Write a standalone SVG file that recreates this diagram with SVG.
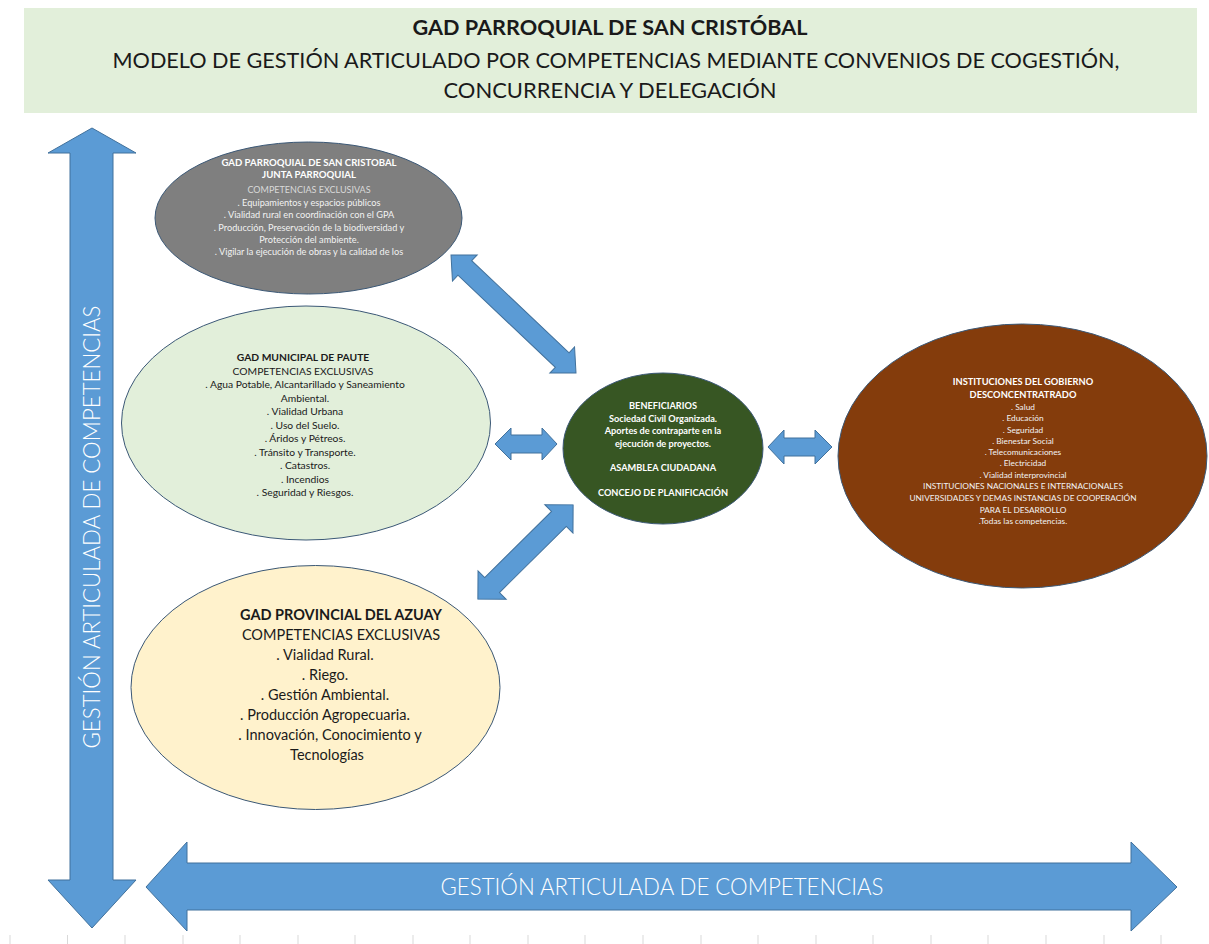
<svg xmlns="http://www.w3.org/2000/svg" width="1209" height="944" viewBox="0 0 1209 944">
<defs>
<style>
.t{font-family:Lato,"Liberation Sans",sans-serif;text-anchor:middle}
.b{font-weight:bold}
.arr{fill:#5b9bd5;stroke:#41719c;stroke-width:1}
.ell{stroke:#3b5876;stroke-width:1}
.w{fill:#ffffff}
.g{fill:#f2f2f2}
.k{fill:#1a1a1a}
.big{font-family:Lato,"Liberation Sans",sans-serif;font-weight:300;fill:#ffffff;text-anchor:middle;font-size:23px}
</style>
</defs>
<rect width="1209" height="944" fill="#ffffff"/>

<g id="title">
<rect x="24" y="8" width="1173" height="105" fill="#e2efda"/>
<text class="t b k" x="610" y="35" font-size="21" textLength="395" lengthAdjust="spacingAndGlyphs">GAD PARROQUIAL DE SAN CRISTÓBAL</text>
<text class="t k" x="616" y="68" font-size="21" textLength="1007" lengthAdjust="spacingAndGlyphs">MODELO DE GESTIÓN ARTICULADO POR COMPETENCIAS MEDIANTE CONVENIOS DE COGESTIÓN,</text>
<text class="t k" x="610" y="98" font-size="21" textLength="333" lengthAdjust="spacingAndGlyphs">CONCURRENCIA Y DELEGACIÓN</text>
</g>

<g id="ticks" stroke="#d9d9d9" stroke-width="1">
<path d="M10,935V944M67.5,935V944M125,935V944M183,935V944M240,935V944M298,935V944M355,935V944M413,935V944M470,935V944M528,935V944M585,935V944M643,935V944M701,935V944M758,935V944M816,935V944M873,935V944M931,935V944M988,935V944M1046,935V944M1104,935V944M1161,935V944"/>
</g>

<g id="axis-vertical">
<path class="arr" d="M92,128 L136,153 L113,153 L113,880 L136,880 L92,928 L48,880 L70,880 L70,153 L48,153 Z"/>
<text class="big" transform="translate(100,527) rotate(-90)" x="0" y="0" textLength="443" lengthAdjust="spacingAndGlyphs">GESTIÓN ARTICULADA DE COMPETENCIAS</text>
</g>

<g id="axis-horizontal">
<path class="arr" d="M146,887 L187,842 L187,863 L1131,863 L1131,842 L1177,887 L1131,931 L1131,910 L187,910 L187,931 Z"/>
<text class="big" x="662" y="895" textLength="443" lengthAdjust="spacingAndGlyphs">GESTIÓN ARTICULADA DE COMPETENCIAS</text>
</g>

<g id="connectors">
<path class="arr" transform="translate(513.5,314) rotate(43.4)" d="M-86,0 L-67,-18 L-67,-10 L67,-10 L67,-18 L86,0 L67,18 L67,10 L-67,10 L-67,18 Z"/>
<path class="arr" transform="translate(525.5,552) rotate(-44.7)" d="M-67,0 L-47,-20 L-47,-10.5 L47,-10.5 L47,-20 L67,0 L47,20 L47,10.5 L-47,10.5 L-47,20 Z"/>
<path class="arr" d="M495,444 L511,428 L511,435 L542,435 L542,428 L557,444 L542,460 L542,453 L511,453 L511,460 Z"/>
<path class="arr" d="M768,447 L784,430 L784,438 L815,438 L815,430 L832,447 L815,464 L815,456 L784,456 L784,464 Z"/>
</g>

<g id="node-parroquial">
<ellipse class="ell" cx="308.5" cy="218" rx="153.5" ry="76" fill="#7f7f7f"/>
<text class="t b w" x="309" y="166" font-size="9.6">GAD PARROQUIAL DE SAN CRISTOBAL</text>
<text class="t b w" x="309" y="177.5" font-size="9.6">JUNTA PARROQUIAL</text>
<text class="t" fill="#d9d9d9" x="309" y="192.5" font-size="9">COMPETENCIAS EXCLUSIVAS</text>
<text class="t g" x="309" y="206" font-size="9.2">. Equipamientos  y espacios públicos</text>
<text class="t g" x="309" y="218" font-size="9.2">. Vialidad rural en coordinación con el GPA</text>
<text class="t g" x="309" y="230.5" font-size="9.2">. Producción, Preservación de la biodiversidad  y</text>
<text class="t g" x="309" y="242.5" font-size="9.2">Protección del ambiente.</text>
<text class="t g" x="309" y="255" font-size="9.2">. Vigilar la ejecución de obras y la calidad de los</text>
</g>

<g id="node-municipal">
<ellipse class="ell" cx="306" cy="423" rx="184.5" ry="117" fill="#e2efda"/>
<text class="t b k" x="303" y="361" font-size="10.3">GAD MUNICIPAL DE PAUTE</text>
<text class="t k" x="303" y="374.5" font-size="10.3">COMPETENCIAS EXCLUSIVAS</text>
<text class="t k" x="305" y="388" font-size="10.3">. Agua Potable, Alcantarillado y Saneamiento</text>
<text class="t k" x="305" y="401.5" font-size="10.3">Ambiental.</text>
<text class="t k" x="305" y="415" font-size="10.3">. Vialidad Urbana</text>
<text class="t k" x="305" y="428.5" font-size="10.3">. Uso del Suelo.</text>
<text class="t k" x="305" y="442" font-size="10.3">. Áridos y Pétreos.</text>
<text class="t k" x="305" y="455.5" font-size="10.3">. Tránsito y Transporte.</text>
<text class="t k" x="305" y="469" font-size="10.3">. Catastros.</text>
<text class="t k" x="305" y="482.5" font-size="10.3">. Incendios</text>
<text class="t k" x="305" y="496" font-size="10.3">. Seguridad y Riesgos.</text>
</g>

<g id="node-beneficiarios">
<ellipse class="ell" cx="663" cy="448.5" rx="100" ry="75.5" fill="#375623"/>
<text class="t b w" x="663" y="409" font-size="9.2">BENEFICIARIOS</text>
<text class="t b w" x="663" y="421.5" font-size="9.2">Sociedad  Civil Organizada.</text>
<text class="t b w" x="663" y="434" font-size="9.2">Aportes de contraparte en la</text>
<text class="t b w" x="663" y="446.5" font-size="9.2">ejecución de proyectos.</text>
<text class="t b w" x="663" y="471" font-size="9.2">ASAMBLEA CIUDADANA</text>
<text class="t b w" x="663" y="496" font-size="9.2">CONCEJO DE PLANIFICACIÓN</text>
</g>

<g id="node-instituciones">
<ellipse class="ell" cx="1022.5" cy="456" rx="184.5" ry="132" fill="#843c0c"/>
<text class="t b w" x="1023" y="384.5" font-size="9.3">INSTITUCIONES DEL GOBIERNO</text>
<text class="t b w" x="1023" y="397.5" font-size="9.3">DESCONCENTRATRADO</text>
<text class="t g" x="1023" y="410" font-size="8.3">. Salud</text>
<text class="t g" x="1023" y="421" font-size="8.3">. Educación</text>
<text class="t g" x="1023" y="432.5" font-size="8.3">. Seguridad</text>
<text class="t g" x="1023" y="443.5" font-size="8.3">. Bienestar Social</text>
<text class="t g" x="1023" y="455" font-size="8.3">. Telecomunicaciones</text>
<text class="t g" x="1023" y="466" font-size="8.3">. Electricidad</text>
<text class="t g" x="1023" y="477.5" font-size="8.3">. Vialidad interprovincial</text>
<text class="t g" x="1023" y="489" font-size="8.3">INSTITUCIONES NACIONALES E INTERNACIONALES</text>
<text class="t g" x="1023" y="501" font-size="8.3">UNIVERSIDADES Y DEMAS INSTANCIAS DE COOPERACIÓN</text>
<text class="t g" x="1023" y="512.5" font-size="8.3">PARA EL DESARROLLO</text>
<text class="t g" x="1023" y="524" font-size="8.3">.Todas las competencias.</text>
</g>

<g id="node-provincial">
<ellipse class="ell" cx="315.5" cy="687.5" rx="184.5" ry="122" fill="#fff2cc"/>
<text class="t b k" x="341" y="620" font-size="14.5">GAD PROVINCIAL DEL AZUAY</text>
<text class="t k" x="341" y="639.5" font-size="14.5">COMPETENCIAS EXCLUSIVAS</text>
<text class="t k" x="325" y="659.5" font-size="14.5">. Vialidad Rural.</text>
<text class="t k" x="325" y="679.5" font-size="14.5">. Riego.</text>
<text class="t k" x="325" y="699.5" font-size="14.5">. Gestión Ambiental.</text>
<text class="t k" x="325" y="719.5" font-size="14.5">. Producción Agropecuaria.</text>
<text class="t k" x="330" y="739.5" font-size="14.5">. Innovación, Conocimiento y</text>
<text class="t k" x="327" y="760" font-size="14.5">Tecnologías</text>
</g>
</svg>
